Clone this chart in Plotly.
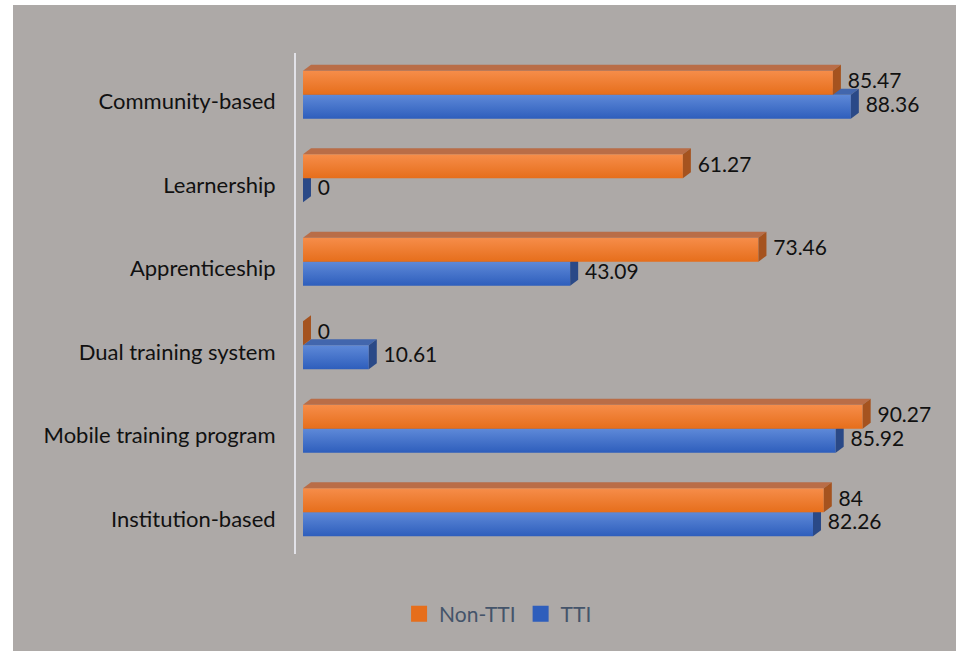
import plotly.graph_objects as go

# Training modalities (listed bottom to top) and employment rates (%)
categories = [
    "Institution-based",
    "Mobile training program",
    "Dual training system",
    "Apprenticeship",
    "Learnership",
    "Community-based",
]
non_tti = [84, 90.27, 0, 73.46, 61.27, 85.47]
tti = [82.26, 85.92, 10.61, 43.09, 0, 88.36]
series_names = ["Non-TTI", "TTI"]

# Figure geometry
W, H = 956, 651
M_L, M_R, M_T, M_B = 296, 33, 53, 97
X_MIN, X_MAX = -1.13, 100
BAR_H = 0.287      # height of one bar in category units
DX, DY = 1.29, 0.072   # 3-D depth offset (x units, category units)
FONT = "Lato"
BG = "#ADA9A7"

styles = {
    "Non-TTI": dict(light="#F68D4A", dark="#E66E1B", top="#B96D47", side="#A5531F"),
    "TTI": dict(light="#5E89D8", dark="#2E5EBC", top="#4266AD", side="#2A4987"),
}

fig = go.Figure()


def poly(xs, ys, color=None, grad=None):
    kw = dict(fill="toself", mode="lines", line=dict(width=0),
              hoverinfo="skip", showlegend=False)
    if grad is not None:
        kw["fillgradient"] = dict(type="vertical",
                                  colorscale=[[0, grad[1]], [1, grad[0]]])
        kw["fillcolor"] = grad[0]
    else:
        kw["fillcolor"] = color
    fig.add_trace(go.Scatter(x=xs + [xs[0]], y=ys + [ys[0]], **kw))


def draw_bar(v, y0, y1, st):
    # front face
    if v > 0:
        poly([0, v, v, 0], [y0, y0, y1, y1], grad=(st["light"], st["dark"]))
    # top face
    poly([0, v, v + DX, DX], [y1, y1, y1 + DY, y1 + DY], color=st["top"])
    # side face
    poly([v, v + DX, v + DX, v], [y0, y0 + DY, y1 + DY, y1], color=st["side"])


label_x, label_y, label_t = [], [], []
# TTI drawn first (lower bar), Non-TTI above it
for i, (a, b) in enumerate(zip(non_tti, tti)):
    draw_bar(b, i - BAR_H, i, styles["TTI"])
    draw_bar(a, i, i + BAR_H, styles["Non-TTI"])
    label_x += [a + DX + 1.1, b + DX + 1.1]
    label_y += [i + BAR_H / 2, i - BAR_H / 2]
    label_t += [f"{a:g}", f"{b:g}"]

fig.add_trace(go.Scatter(
    x=label_x, y=label_y, text=label_t, mode="text",
    textposition="middle right",
    textfont=dict(family=FONT, size=21, color="#111111"),
    cliponaxis=False, hoverinfo="skip", showlegend=False,
))

# legend entries (a single point placed outside the visible range)
for name in series_names:
    fig.add_trace(go.Scatter(
        x=[-50], y=[-50], mode="markers", name=name,
        marker=dict(symbol="square", size=16, color=styles[name]["dark"],
                    line=dict(width=0)),
        hoverinfo="skip",
    ))

plot_w = W - M_L - M_R
plot_h = H - M_T - M_B


def px_x(p):
    return (p - M_L) / plot_w


def px_y(p):
    return (H - M_B - p) / plot_h


# white frame along the left and top edges
fig.add_shape(type="rect", xref="paper", yref="paper",
              x0=px_x(-5), x1=px_x(13), y0=px_y(H + 5), y1=px_y(-5),
              fillcolor="white", line=dict(width=0), layer="above")
fig.add_shape(type="rect", xref="paper", yref="paper",
              x0=px_x(-5), x1=px_x(W + 5), y0=px_y(5), y1=px_y(-5),
              fillcolor="white", line=dict(width=0), layer="above")

fig.update_layout(
    width=W, height=H,
    margin=dict(l=M_L, r=M_R, t=M_T, b=M_B, pad=0),
    paper_bgcolor=BG, plot_bgcolor=BG,
    font=dict(family=FONT, size=22, color="#111111"),
    showlegend=True,
    legend=dict(
        orientation="h", xref="container", yref="container",
        x=0.521, y=1 - 614 / H, xanchor="center", yanchor="middle",
        font=dict(family=FONT, size=21, color="#44546A"),
        itemsizing="trace",
        bgcolor="rgba(0,0,0,0)", itemclick=False, itemdoubleclick=False,
    ),
    xaxis=dict(range=[X_MIN, X_MAX], visible=False, fixedrange=True),
    yaxis=dict(
        range=[-0.5, 5.5],
        tickmode="array",
        tickvals=[i - 0.08 for i in range(len(categories))],
        ticktext=categories,
        showline=True, linecolor="#E2E2E8", linewidth=2,
        showgrid=False, zeroline=False,
        ticks="outside", ticklen=14, tickcolor="rgba(0,0,0,0)",
        tickfont=dict(family=FONT, size=22, color="#111111"),
        fixedrange=True,
    ),
)

fig.write_html("out.html")
